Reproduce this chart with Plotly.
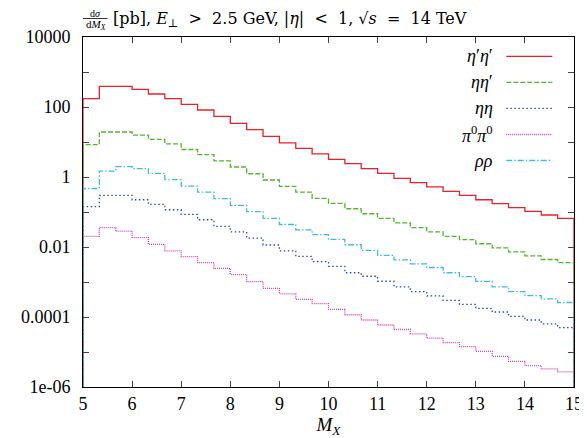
import plotly.graph_objects as go

# bin edges: 30 bins of width 1/3 from 5 to 15
x_lo, x_hi, n_bins = 5.0, 15.0, 30
edges = [x_lo + i * (x_hi - x_lo) / n_bins for i in range(n_bins)]

etap_etap = [173, 390, 390, 318, 235, 173, 119, 82, 54, 34, 22.5, 14.5, 9.5, 6.6, 4.6,
             3.2, 2.4, 1.73, 1.27, 0.91, 0.69, 0.52, 0.39, 0.30, 0.224, 0.173, 0.133, 0.104, 0.082, 0.066]
eta_etap = [8.4, 19.3, 19.3, 15.8, 11.9, 8.8, 6.1, 4.35, 2.87, 1.93, 1.24, 0.82, 0.54, 0.37, 0.245,
            0.176, 0.124, 0.089, 0.066, 0.049, 0.036, 0.027, 0.020, 0.0162, 0.0124, 0.0095, 0.0073, 0.0056, 0.0044, 0.0036]
eta_eta = [0.142, 0.30, 0.30, 0.224, 0.165, 0.116, 0.085, 0.06, 0.039, 0.027, 0.018, 0.0114, 0.0078, 0.0054, 0.0038,
           0.0028, 0.00184, 0.00146, 0.00105, 0.00073, 0.00053, 0.0004, 0.0003, 0.00023, 0.000176, 0.000139, 0.000104, 0.000082, 0.000064, 0.00005]
pi0_pi0 = [0.020, 0.0356, 0.0286, 0.0185, 0.0119, 0.0078, 0.0053, 0.0036, 0.00245, 0.00163, 0.00102, 0.00066, 0.00046, 0.00032, 0.00024,
           0.000165, 0.000116, 0.000082, 0.000059, 0.000044, 0.000033, 0.000025, 0.0000185, 0.0000142, 0.0000104, 0.0000075, 0.0000054, 0.0000041, 0.0000033, 0.0000027]
rho_rho = [0.47, 1.48, 1.97, 1.73, 1.27, 0.84, 0.55, 0.37, 0.24, 0.155, 0.102, 0.066, 0.044, 0.031, 0.0225,
           0.0165, 0.0116, 0.008, 0.0058, 0.0043, 0.0033, 0.0026, 0.00184, 0.00142, 0.00104, 0.00073, 0.00053, 0.00041, 0.00033, 0.00026]

y_min, y_max = 1e-6, 1e4
y_tickvals = [1e-6, 1e-5, 1e-4, 1e-3, 1e-2, 1e-1, 1, 10, 100, 1000, 1e4]
y_ticktext = ["1e-06", "", "0.0001", "", "0.01", "", "1", "", "100", "", "10000"]
x_tickvals = list(range(5, 16))

series = [
    ("η′η′", "<i>η</i>′<i>η</i>′", etap_etap, "#e8202a", "solid"),
    ("ηη′", "<i>ηη</i>′", eta_etap, "#55b530", "5px,2px"),
    ("ηη", "<i>ηη</i>", eta_eta, "#2a48c0", "1.5px,2.5px"),
    ("π0π0", "<i>π</i><sup>0</sup><i>π</i><sup>0</sup>", pi0_pi0, "#cc44bb", "1px,1px"),
    ("ρρ", "<i>ρρ</i>", rho_rho, "#40bcd8", "6px,2px,1.5px,2px"),
]

fig = go.Figure()
for name, label, vals, color, dash in series:
    xs = [x_lo] + edges + [x_hi]
    ys = [y_min] + vals + [y_min]
    fig.add_trace(go.Scatter(x=xs, y=ys, mode="lines", name=name,
                             line=dict(shape="hv", color=color, width=1.3, dash=dash),
                             showlegend=False))

# plot area geometry (pixels)
L, R, T, B = 75, 12, 29, 59
W, H = 587, 438
pw, ph = W - L - R, H - T - B

def px(x):
    return (x - L) / pw

def py(y):
    return (H - B - y) / ph

serif = "Liberation Serif"
wide_serif = "DejaVu Serif"
annotations = []
shapes = []
leg_y = [48.3, 74.3, 100.3, 126.5, 152.5]
for (name, label, vals, color, dash), yy in zip(series, leg_y):
    annotations.append(dict(x=px(495), y=py(yy), xref="paper", yref="paper", text=label,
                            showarrow=False, xanchor="right", yanchor="middle",
                            font=dict(family=serif, size=18, color="black")))
    shapes.append(dict(type="line", xref="paper", yref="paper", x0=px(506), x1=px(553),
                       y0=py(yy), y1=py(yy), line=dict(color=color, width=1.3, dash=dash)))

# title: fraction + rest
annotations.append(dict(x=px(88), y=py(5.5), xref="paper", yref="paper", text="d<i>σ</i>",
                        showarrow=False, xanchor="center", yanchor="middle",
                        font=dict(family=serif, size=10, color="black")))
annotations.append(dict(x=px(88), y=py(17), xref="paper", yref="paper", text="d<i>M</i><sub><i>X</i></sub>",
                        showarrow=False, xanchor="center", yanchor="middle",
                        font=dict(family=serif, size=11, color="black")))
shapes.append(dict(type="line", xref="paper", yref="paper", x0=px(75), x1=px(100),
                   y0=py(10.5), y1=py(10.5), line=dict(color="black", width=0.8)))
nb = "\u00a0"
title_rest = ("[pb], <i>E</i><sub>⊥</sub>" + nb + " > " + nb + "2.5 GeV, |<i>η</i>|" + nb + " < " + nb
              + "1, √<i>s</i>" + nb + " = " + nb + "14 TeV")
annotations.append(dict(x=px(104), y=py(11.5), xref="paper", yref="paper",
                        text=title_rest,
                        showarrow=False, xanchor="left", yanchor="middle",
                        font=dict(family=wide_serif, size=16, color="black")))

fig.update_layout(
    width=W, height=H,
    margin=dict(l=L, r=R, t=T, b=B),
    paper_bgcolor="white", plot_bgcolor="white",
    font=dict(family=serif, size=18, color="black"),
    annotations=annotations, shapes=shapes,
    xaxis=dict(range=[x_lo, x_hi], tickvals=x_tickvals, ticks="inside", ticklen=6,
               tickfont=dict(family=serif, size=18, color="black"),
               showline=True, linecolor="black", linewidth=1, mirror="ticks",
               showgrid=False, zeroline=False,
               title=dict(text="<i>M</i><sub><i>X</i></sub>", font=dict(family=serif, size=19), standoff=2)),
    yaxis=dict(type="log", range=[-6, 4], tickvals=y_tickvals, ticktext=y_ticktext,
               tickfont=dict(family=serif, size=18, color="black"), ticklabelstandoff=8,
               ticks="inside", ticklen=6, showline=True, linecolor="black", linewidth=1,
               mirror="ticks", showgrid=False, zeroline=False),
)

fig.write_html("out.html")
